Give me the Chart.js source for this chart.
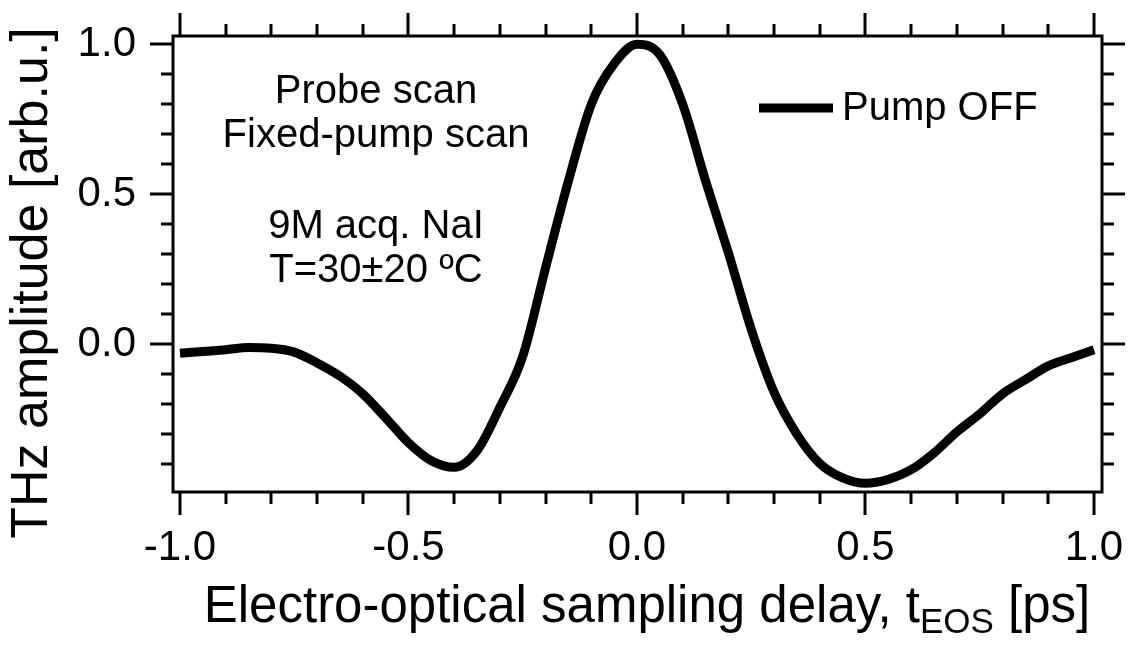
<!DOCTYPE html>
<html>
<head>
<meta charset="utf-8">
<script src="https://cdn.jsdelivr.net/npm/chart.js@4.4.0/dist/chart.umd.min.js"></script>
<style>
html, body { margin: 0; padding: 0; background: #fff; }
#wrap { width: 1129px; height: 646px; }
</style>
</head>
<body>
<div id="wrap"><canvas id="thzChart" width="1129" height="646"></canvas></div>
<script>
// ----- data -----
const delay = [-1.00, -0.95, -0.90, -0.85, -0.80, -0.75, -0.70, -0.65, -0.60, -0.55,
               -0.50, -0.45, -0.40, -0.35, -0.30, -0.25, -0.20, -0.15, -0.10, -0.05,
                0.00,  0.05,  0.10,  0.15,  0.20,  0.25,  0.30,  0.35,  0.40,  0.45,
                0.50,  0.55,  0.60,  0.65,  0.70,  0.75,  0.80,  0.85,  0.90,  0.95, 1.00];
const pumpOff = [-0.030, -0.024, -0.018, -0.011, -0.013, -0.026, -0.062, -0.106, -0.165, -0.245,
                 -0.328, -0.388, -0.410, -0.355, -0.210, -0.040,  0.255,  0.545,  0.800,  0.935,
                  1.000,  0.965,  0.800,  0.545,  0.305,  0.050, -0.160, -0.300, -0.397, -0.445,
                 -0.463, -0.450, -0.418, -0.362, -0.292, -0.232, -0.165, -0.118, -0.072, -0.045, -0.018];

const xMajorTicks = [-1.0, -0.5, 0.0, 0.5, 1.0];
const xMinorTicks = [-0.9, -0.8, -0.7, -0.6, -0.4, -0.3, -0.2, -0.1, 0.1, 0.2, 0.3, 0.4, 0.6, 0.7, 0.8, 0.9];
const yMajorTicks = [0.0, 0.5, 1.0];
const yMinorTicks = [-0.4, -0.3, -0.2, -0.1, 0.1, 0.2, 0.3, 0.4, 0.6, 0.7, 0.8, 0.9];

const seriesLabel = 'Pump OFF';
const noteLines = ['Probe scan', 'Fixed-pump scan', '', '9M acq. NaI', 'T=30±20 ºC'];
const xTitleParts = ['Electro-optical sampling delay, t', 'EOS', ' [ps]'];
const yTitle = 'THz amplitude [arb.u.]';

const FONT = "'Liberation Sans', Arial, Helvetica, sans-serif";

// frame + outward tick marks (major long, minor short)
const frameTicks = {
    id: 'frameTicks',
    afterDraw(chart) {
        const ctx = chart.ctx;
        const a = chart.chartArea;
        const xs = chart.scales.x;
        const ys = chart.scales.y;
        const majorLen = 23, minorLen = 12;
        ctx.save();
        ctx.strokeStyle = '#000';
        ctx.lineWidth = 3;
        ctx.lineCap = 'butt';
        ctx.beginPath();
        ctx.rect(a.left, a.top, a.right - a.left, a.bottom - a.top);
        ctx.stroke();

        ctx.beginPath();
        const xTick = (v, len) => {
            const px = Math.round(xs.getPixelForValue(v));
            ctx.moveTo(px, a.bottom); ctx.lineTo(px, a.bottom + len);
            ctx.moveTo(px, a.top); ctx.lineTo(px, a.top - len);
        };
        const yTick = (v, len) => {
            const py = Math.round(ys.getPixelForValue(v));
            ctx.moveTo(a.left, py); ctx.lineTo(a.left - len, py);
            ctx.moveTo(a.right, py); ctx.lineTo(a.right + len, py);
        };
        xMajorTicks.forEach(v => xTick(v, majorLen));
        xMinorTicks.forEach(v => xTick(v, minorLen));
        yMajorTicks.forEach(v => yTick(v, majorLen));
        yMinorTicks.forEach(v => yTick(v, minorLen));
        ctx.stroke();
        ctx.restore();
    }
};

// annotation text, legend, axis titles
const textBits = {
    id: 'textBits',
    afterDraw(chart) {
        const ctx = chart.ctx;
        const ds = chart.data.datasets[0];
        ctx.save();
        ctx.fillStyle = '#000';

        // notes block
        ctx.font = '40px ' + FONT;
        ctx.textAlign = 'center';
        ctx.textBaseline = 'alphabetic';
        const noteBase = [103, 147, 0, 238, 282];
        noteLines.forEach((t, i) => { if (t) ctx.fillText(t, 376, noteBase[i]); });

        // legend
        ctx.strokeStyle = ds.borderColor;
        ctx.lineWidth = ds.borderWidth;
        ctx.beginPath();
        ctx.moveTo(759, 108); ctx.lineTo(833, 108);
        ctx.stroke();
        ctx.textAlign = 'left';
        ctx.fillText(ds.label, 842, 120);

        // x title with subscript
        const bigF = '51px ' + FONT, subF = '35px ' + FONT;
        ctx.font = bigF;
        const w0 = ctx.measureText(xTitleParts[0]).width;
        const w2 = ctx.measureText(xTitleParts[2]).width;
        ctx.font = subF;
        const w1 = ctx.measureText(xTitleParts[1]).width;
        let x = 647 - (w0 + w1 + w2) / 2;
        const base = 622;
        ctx.font = bigF; ctx.fillText(xTitleParts[0], x, base); x += w0;
        ctx.font = subF; ctx.fillText(xTitleParts[1], x, base + 11); x += w1;
        ctx.font = bigF; ctx.fillText(xTitleParts[2], x, base);

        // y title
        ctx.translate(47, 283);
        ctx.rotate(-Math.PI / 2);
        ctx.font = '52px ' + FONT;
        ctx.textAlign = 'center';
        ctx.fillText(yTitle, 0, 0);
        ctx.restore();
    }
};

new Chart(document.getElementById('thzChart'), {
    type: 'line',
    data: {
        datasets: [{
            label: seriesLabel,
            data: delay.map((d, i) => ({ x: d, y: pumpOff[i] })),
            borderColor: '#000',
            borderWidth: 9,
            pointRadius: 0,
            cubicInterpolationMode: 'monotone',
            borderJoinStyle: 'round',
            fill: false
        }]
    },
    options: {
        responsive: false,
        animation: false,
        devicePixelRatio: 1,
        layout: { padding: { top: 36, right: 27, left: 0, bottom: 0 } },
        plugins: { legend: { display: false }, tooltip: { enabled: false } },
        scales: {
            x: {
                type: 'linear',
                min: -1.0153,
                max: 1.0175,
                afterBuildTicks: s => { s.ticks = xMajorTicks.map(v => ({ value: v })); },
                afterFit: s => { s.height = 154; s.paddingLeft = 0; s.paddingRight = 0; },
                grid: { display: false, drawTicks: false },
                border: { display: false },
                ticks: {
                    color: '#000',
                    padding: 31,
                    maxRotation: 0,
                    autoSkip: false,
                    font: { size: 42, family: FONT },
                    callback: v => v.toFixed(1)
                }
            },
            y: {
                type: 'linear',
                min: -0.4923,
                max: 1.0277,
                afterBuildTicks: s => { s.ticks = yMajorTicks.map(v => ({ value: v })); },
                afterFit: s => { s.width = 173; s.paddingTop = 0; s.paddingBottom = 0; },
                grid: { display: false, drawTicks: false },
                border: { display: false },
                ticks: {
                    color: '#000',
                    padding: 37,
                    autoSkip: false,
                    font: { size: 42, family: FONT },
                    callback: v => v.toFixed(1)
                }
            }
        }
    },
    plugins: [frameTicks, textBits]
});
</script>
</body>
</html>
